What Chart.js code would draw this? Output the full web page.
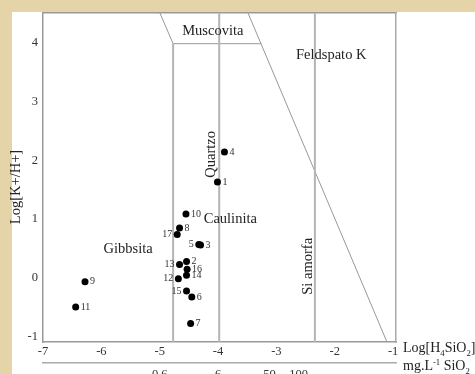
<!DOCTYPE html>
<html>
<head>
<meta charset="utf-8">
<script src="https://cdn.jsdelivr.net/npm/chart.js@4"></script>
<style>
  html, body { margin: 0; padding: 0; background: #e6d4a9; overflow: hidden; }
  #chart { display: block; }
</style>
</head>
<body>
<canvas id="chart" width="475" height="374"></canvas>
<script>
// sample points: log[H4SiO4] vs log[K+/H+]
const sampleIds = ['1', '2', '3', '4', '5', '6', '7', '8', '9', '10', '11', '12', '13', '14', '15', '16', '17'];
const logSilica = [-4.01, -4.54, -4.30, -3.89, -4.33, -4.45, -4.47, -4.66, -6.28, -4.55, -6.44, -4.68, -4.66, -4.54, -4.54, -4.53, -4.70];
const logKH = [1.63, 0.28, 0.56, 2.14, 0.57, -0.32, -0.77, 0.85, -0.06, 1.09, -0.49, -0.01, 0.23, 0.05, -0.22, 0.15, 0.74];

// stability field boundaries
const gibbsiteBoundX = [-4.77, -4.77];
const gibbsiteBoundY = [-1.085, 3.98];
const quartzX = [-3.98, -3.98];
const quartzY = [-1.085, 4.51];
const amorphSiX = [-2.34, -2.34];
const amorphSiY = [-1.085, 4.51];
const muscoLeftX = [-5.0, -4.77];
const muscoLeftY = [4.51, 3.98];
const muscoBaseX = [-4.77, -3.26];
const muscoBaseY = [3.98, 3.98];
const feldsparX = [-3.49, -1.105];
const feldsparY = [4.51, -1.085];

// axis ticks
const xTicks = [-7, -6, -5, -4, -3, -2, -1];
const yTicks = [-1, 0, 1, 2, 3, 4];
const silicaTickPos = [-5, -4, -3.12, -2.62];
const silicaTickLabels = ['0.6', '6', '50', '100'];

// field names
const fieldNames = ['Muscovita', 'Feldspato K', 'Quartzo', 'Caulinita', 'Gibbsita', 'Si amorfa'];
const fieldAt = [[-4.09, 4.2], [-2.06, 3.78], [-4.11, 2.1], [-3.79, 1.0], [-5.54, 0.49], [-2.46, 0.2]];
const fieldRotated = [false, false, true, false, false, true];
const leftLabelled = ['5', '12', '13', '15', '17'];

const SERIF = '"Liberation Serif", "Times New Roman", serif';
const X_MIN = -7, X_MAX = -0.95, Y_MIN = -1.085, Y_MAX = 4.51;

function xy(xs, ys) {
  return xs.map(function(x, i) { return {x: x, y: ys[i]}; });
}

function boundary(xs, ys, color, width) {
  return {
    data: xy(xs, ys),
    showLine: true,
    borderColor: color,
    borderWidth: width,
    pointRadius: 0,
    pointHoverRadius: 0,
  };
}

// draws text with sub/superscripts: parts = [[text, shift]]
function richText(ctx, parts, x, y, size) {
  let cx = x;
  for (let p of parts) {
    const small = p[1] !== 0;
    ctx.font = (small ? size * 0.62 : size) + 'px ' + SERIF;
    ctx.fillText(p[0], cx, y + p[1] * size * 0.3);
    cx += ctx.measureText(p[0]).width;
  }
}

const paperPlugin = {
  id: 'paper',
  beforeDraw(chart) {
    const ctx = chart.ctx;
    ctx.save();
    ctx.fillStyle = '#e6d4a9';
    ctx.fillRect(0, 0, chart.width, chart.height);
    ctx.fillStyle = '#ffffff';
    ctx.fillRect(12, 12, chart.width - 12, chart.height - 12);
    ctx.restore();
  }
};

const labelsPlugin = {
  id: 'labels',
  afterDatasetsDraw(chart) {
    const ctx = chart.ctx;
    const xs = chart.scales.x, ys = chart.scales.y;
    ctx.save();
    ctx.fillStyle = '#222';
    ctx.textBaseline = 'middle';

    // field names
    ctx.font = '14.5px ' + SERIF;
    ctx.textAlign = 'center';
    fieldNames.forEach(function(name, i) {
      const px = xs.getPixelForValue(fieldAt[i][0]);
      const py = ys.getPixelForValue(fieldAt[i][1]);
      if (fieldRotated[i]) {
        ctx.save();
        ctx.translate(px, py);
        ctx.rotate(-Math.PI / 2);
        ctx.fillText(name, 0, 0);
        ctx.restore();
      } else {
        ctx.fillText(name, px, py);
      }
    });

    // sample numbers
    ctx.font = '10px ' + SERIF;
    ctx.fillStyle = '#333';
    sampleIds.forEach(function(id, i) {
      const px = xs.getPixelForValue(logSilica[i]);
      const py = ys.getPixelForValue(logKH[i]);
      if (leftLabelled.includes(id)) {
        ctx.textAlign = 'right';
        ctx.fillText(id, px - 5, py);
      } else {
        ctx.textAlign = 'left';
        ctx.fillText(id, px + 5, py);
      }
    });

    // y title
    ctx.fillStyle = '#222';
    ctx.font = '14.5px ' + SERIF;
    ctx.textAlign = 'center';
    ctx.save();
    ctx.translate(16, 187);
    ctx.rotate(-Math.PI / 2);
    ctx.fillText('Log[K+/H+]', 0, 0);
    ctx.restore();

    // x titles
    ctx.textAlign = 'left';
    ctx.textBaseline = 'alphabetic';
    const left = chart.chartArea.right + 7;
    richText(ctx, [['Log[H', 0], ['4', 1], ['SiO', 0], ['2', 1], [']', 0]], left, 352, 14);
    richText(ctx, [['mg.L', 0], ['-1', -1.3], [' SiO', 0], ['2', 1]], left, 370, 14);
    ctx.restore();
  }
};

function initChart() {
  const ctx = document.getElementById('chart').getContext('2d');
  const tickFont = {family: SERIF, size: 12.5};

  // eslint-disable-next-line no-undef
  const chart = new Chart(ctx, {
    type: 'scatter',
    data: {
      datasets: [
        {
          data: xy(logSilica, logKH),
          backgroundColor: '#000',
          borderWidth: 0,
          pointRadius: 3.5,
          pointHoverRadius: 3.5,
        },
        boundary(gibbsiteBoundX, gibbsiteBoundY, '#b4b4b4', 2),
        boundary(quartzX, quartzY, '#b4b4b4', 2),
        boundary(amorphSiX, amorphSiY, '#b4b4b4', 2),
        boundary(muscoLeftX, muscoLeftY, '#999', 1),
        boundary(muscoBaseX, muscoBaseY, '#999', 1),
        boundary(feldsparX, feldsparY, '#999', 1),
      ]
    },
    options: {
      responsive: false,
      animation: false,
      devicePixelRatio: 1,
      layout: {padding: {top: 12, right: 79, bottom: 0, left: 0}},
      plugins: {legend: {display: false}, tooltip: {enabled: false}},
      scales: {
        x: {
          type: 'linear', position: 'bottom', min: X_MIN, max: X_MAX,
          grid: {display: false, drawTicks: false},
          border: {display: true, color: '#999', width: 1.5},
          afterBuildTicks: function(scale) { scale.ticks = xTicks.map(function(v) { return {value: v}; }); },
          afterFit: function(scale) { scale.height = 21; },
          ticks: {font: tickFont, color: '#333', padding: 2, maxRotation: 0, autoSkip: false},
        },
        x2: {
          type: 'linear', position: 'bottom', min: X_MIN, max: X_MAX,
          grid: {display: false, drawTicks: false},
          border: {display: true, color: '#aaa', width: 1.5},
          afterBuildTicks: function(scale) { scale.ticks = silicaTickPos.map(function(v) { return {value: v}; }); },
          afterFit: function(scale) { scale.height = 11; },
          ticks: {
            font: tickFont, color: '#333', padding: 4, maxRotation: 0, autoSkip: false,
            callback: function(value, index) { return silicaTickLabels[index]; }
          },
        },
        xTop: {
          type: 'linear', position: 'top', min: X_MIN, max: X_MAX,
          grid: {display: false, drawTicks: false},
          border: {display: true, color: '#999', width: 1.5},
          ticks: {display: false},
        },
        y: {
          type: 'linear', position: 'left', min: Y_MIN, max: Y_MAX,
          grid: {display: false, drawTicks: false},
          border: {display: true, color: '#999', width: 1.5},
          afterBuildTicks: function(scale) { scale.ticks = yTicks.map(function(v) { return {value: v}; }); },
          afterFit: function(scale) { scale.width = 43; },
          ticks: {font: tickFont, color: '#333', padding: 5},
        },
        yRight: {
          type: 'linear', position: 'right', min: Y_MIN, max: Y_MAX,
          grid: {display: false, drawTicks: false},
          border: {display: true, color: '#aaa', width: 1.5},
          ticks: {display: false},
        },
      }
    },
    plugins: [paperPlugin, labelsPlugin]
  });
  return chart;
}

initChart();
</script>
</body>
</html>
